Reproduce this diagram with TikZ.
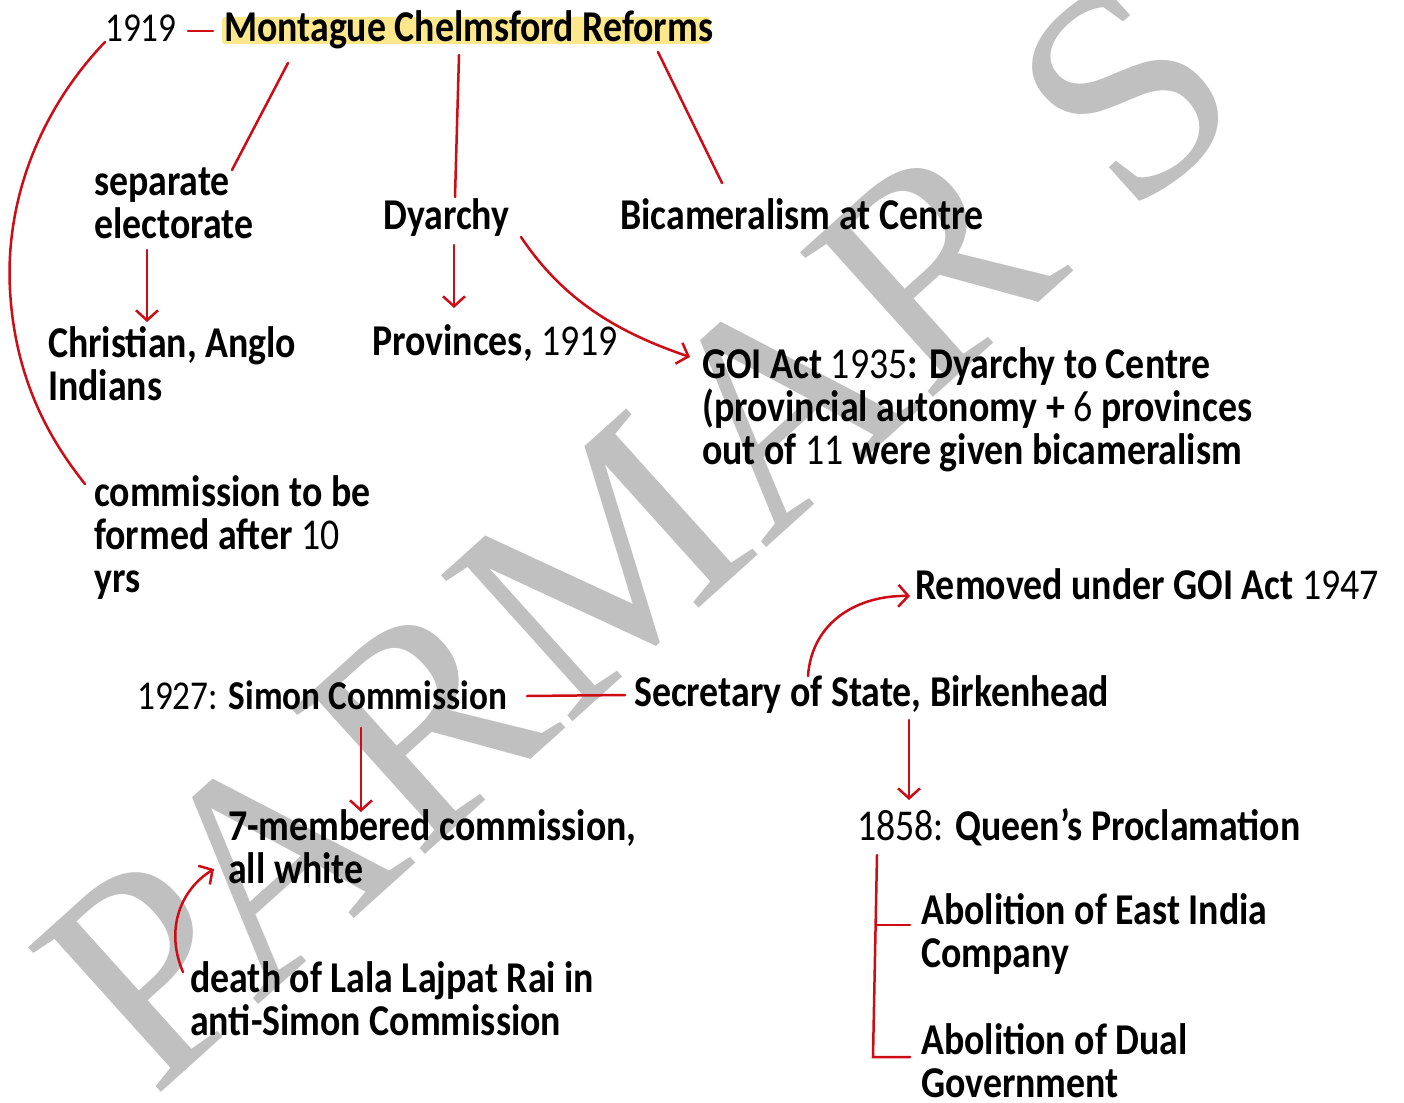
\documentclass[tikz,border=0pt]{standalone}
\usepackage{fontspec}
\setmainfont[FakeStretch=0.86]{Carlito}
\newfontfamily\wmfont{Liberation Serif}
\usetikzlibrary{arrows.meta}
\definecolor{ink}{RGB}{205,12,22}
\definecolor{hl}{RGB}{253,231,140}
\definecolor{wmgray}{RGB}{192,192,192}
\newcommand\digs[1]{{\mdseries #1}}
\begin{document}
\begin{tikzpicture}[x=1pt,y=-1pt,
  txt/.style={inner sep=0pt, anchor=base west, align=left,
    font=\fontsize{44}{43}\selectfont\bfseries},
  tight/.style={font=\fontsize{41}{43}\selectfont\bfseries},
  link/.style={draw=ink, line width=2.5pt, line cap=round},
  arr/.style={link, -{Straight Barb[length=10pt,width=22pt]}},
  wmark/.style={text=wmgray, inner sep=0pt, anchor=base west, rotate=42,
    font=\wmfont\fontsize{300}{300}\selectfont}
]
\useasboundingbox[fill=white] (0,0) rectangle (1404,1102);

% watermark
\node[wmark] (wm) at (153,1100) {PARMAR S};

% highlight behind title
\fill[hl, rounded corners=3pt] (222,17) rectangle (710,44);

% nodes (base anchor = baseline of last line)
\node[txt, tight] (y1919) at (105,42) {\digs{1919}};
\node[txt] (mcr) at (224,42) {Montague Chelmsford Reforms};
\node[txt] (sep) at (94,238) {separate\\electorate};
\node[txt] (dy) at (383,229) {Dyarchy};
\node[txt] (bic) at (620,229) {Bicameralism at Centre};
\node[txt] (chr) at (48,400) {Christian, Anglo\\Indians};
\node[txt] (prov) at (372,355) {Provinces, \digs{1919}};
\node[txt] (goi) at (702,464) {GOI Act \digs{1935}: Dyarchy to Centre\\(provincial autonomy + \digs{6} provinces\\out of \digs{11} were given bicameralism};
\node[txt] (com) at (94,592) {commission to be\\formed after \digs{10}\\yrs};
\node[txt] (rem) at (915,599) {Removed under GOI Act \digs{1947}};
\node[txt, tight] (sim) at (137,709) {\digs{1927:} Simon Commission};
\node[txt] (sec) at (634,706) {Secretary of State, Birkenhead};
\node[txt] (sev) at (228,883) {7-membered commission,\\all white};
\node[txt] (qp) at (857,840) {\digs{1858:} Queen’s Proclamation};
\node[txt] (lala) at (190,1035) {death of Lala Lajpat Rai in\\anti-Simon Commission};
\node[txt] (eic) at (921,967) {Abolition of East India\\Company};
\node[txt] (dual) at (921,1097) {Abolition of Dual\\Government};

% connector anchor points
\coordinate (yR) at (188,31);
\coordinate (mL) at (213,31);
\coordinate (mA) at (288,63);
\coordinate (mB) at (459,55);
\coordinate (mC) at (658,52);
\coordinate (sepT) at (232,170);
\coordinate (dyT) at (455,197);
\coordinate (bicT) at (722,183);
\coordinate (yL) at (105,42);
\coordinate (comL) at (85,484);
\coordinate (sepB) at (147,250);
\coordinate (chrT) at (147,322);
\coordinate (dyB) at (454,245);
\coordinate (provT) at (454,308);
\coordinate (dyR) at (521,237);
\coordinate (goiL) at (690,357);
\coordinate (simR) at (527,696);
\coordinate (secL) at (625,695);
\coordinate (secT) at (808,676);
\coordinate (remL) at (910,596);
\coordinate (secB) at (909,720);
\coordinate (qpT) at (909,800);
\coordinate (simB) at (361,728);
\coordinate (sevT) at (361,812);
\coordinate (lalaL) at (183,972);
\coordinate (sevL) at (214,869);
\coordinate (qpB) at (877,855);
\coordinate (brk) at (873,1057);
\coordinate (brkM) at (876,925);
\coordinate (eicL) at (910,925);
\coordinate (dualL) at (910,1057);

% connectors
\draw[link] (yR) -- (mL);
\draw[link] (mA) -- (sepT);
\draw[link] (mB) -- (dyT);
\draw[link] (mC) -- (bicT);
\draw[link] (yL) .. controls (40,110) and (5,200) .. (10,290)
                 .. controls (15,380) and (50,440) .. (comL);
\draw[arr] (sepB) -- (chrT);
\draw[arr] (dyB) -- (provT);
\draw[arr] (dyR) .. controls (560,295) and (610,330) .. (goiL);
\draw[link] (simR) -- (secL);
\draw[arr] (secT) .. controls (812,620) and (860,595) .. (remL);
\draw[arr] (secB) -- (qpT);
\draw[arr] (simB) -- (sevT);
\draw[arr] (lalaL) .. controls (165,930) and (180,890) .. (sevL);
\draw[link] (qpB) -- (brk) -- (dualL);
\draw[link] (brkM) -- (eicL);
\end{tikzpicture}
\end{document}
